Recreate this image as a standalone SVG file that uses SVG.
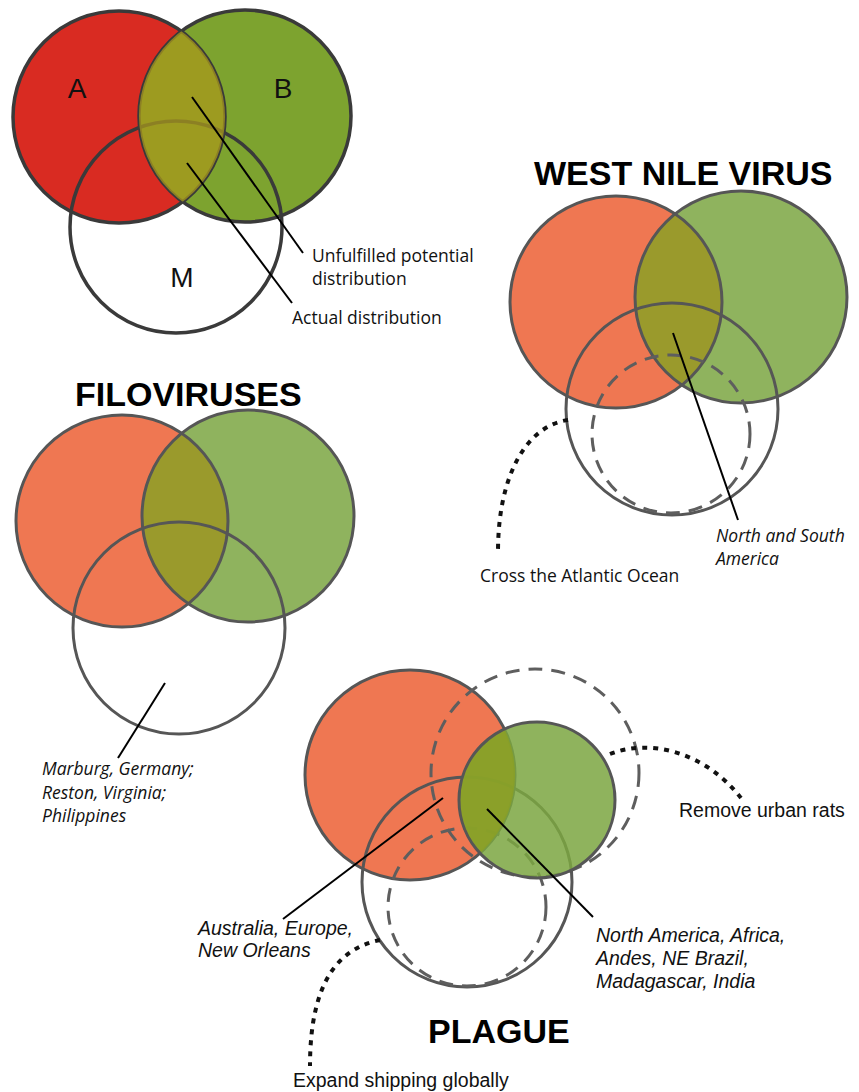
<svg xmlns="http://www.w3.org/2000/svg" width="859" height="1092" viewBox="0 0 859 1092">
<style>
.edge{fill:none;stroke:#3a3a3a;stroke-width:3.5}
.edge2{fill:none;stroke:#565656;stroke-width:3}
.dash{fill:none;stroke:#5e5e5e;stroke-width:3;stroke-dasharray:14 9}
.dots{fill:none;stroke:#111;stroke-width:4;stroke-dasharray:5 6}
.lead{fill:none;stroke:#000;stroke-width:2}
.title{font-family:"Liberation Sans",Arial,sans-serif;font-weight:bold;font-size:34px;fill:#000}
.lbl{font-family:"Open Sans","Liberation Sans",sans-serif;font-size:17.5px;fill:#111}
.arl{font-family:"Liberation Sans",Arial,sans-serif;font-size:19.5px;fill:#111}
.big{font-family:"Liberation Sans",Arial,sans-serif;font-size:28px;fill:#111}
.it{font-style:italic}
.red1{fill:#d92b22}.grn1{fill:#7da32f}
.red{fill:#ef7752}.grn{fill:#8fb35e}.olv{fill:#9a9a2c}
</style>
<defs>
<clipPath id="cA"><circle cx="119" cy="117" r="106"/></clipPath>
<clipPath id="cW"><circle cx="616" cy="302" r="106"/></clipPath>
<clipPath id="cF"><circle cx="122" cy="521" r="106"/></clipPath>
<clipPath id="cP"><circle cx="410" cy="775" r="105"/></clipPath>
</defs>
<rect width="859" height="1092" fill="#fff"/>

<g id="concept">
<circle cx="119" cy="117" r="106" class="red1"/>
<circle cx="245" cy="116" r="106" class="grn1"/>
<circle cx="119" cy="117" r="106" class="edge"/>
<circle cx="245" cy="116" r="106" class="edge"/>
<circle cx="176" cy="227" r="106" class="edge"/>
<circle cx="245" cy="116" r="106" clip-path="url(#cA)" fill="#a8981c" fill-opacity="0.75"/>
<text x="77" y="98" class="big" text-anchor="middle">A</text>
<text x="283" y="98" class="big" text-anchor="middle">B</text>
<text x="182" y="287" class="big" text-anchor="middle">M</text>
</g>

<g id="west-nile">
<text x="534" y="185" class="title">WEST NILE VIRUS</text>
<circle cx="616" cy="302" r="106" class="red"/>
<circle cx="741" cy="297" r="106" class="grn"/>
<circle cx="741" cy="297" r="106" clip-path="url(#cW)" class="olv"/>
<circle cx="616" cy="302" r="106" class="edge2"/>
<circle cx="741" cy="297" r="106" class="edge2"/>
<circle cx="672" cy="409" r="106" class="edge2"/>
<circle cx="671" cy="434" r="79" class="dash"/>
</g>

<g id="filoviruses">
<text x="75" y="406" class="title">FILOVIRUSES</text>
<circle cx="122" cy="521" r="106" class="red"/>
<circle cx="248" cy="516" r="106" class="grn"/>
<circle cx="248" cy="516" r="106" clip-path="url(#cF)" class="olv"/>
<circle cx="122" cy="521" r="106" class="edge2"/>
<circle cx="248" cy="516" r="106" class="edge2"/>
<circle cx="179" cy="628" r="106" class="edge2"/>
</g>

<g id="plague">
<circle cx="410" cy="775" r="105" class="red"/>
<circle cx="410" cy="775" r="105" class="edge2"/>
<circle cx="535" cy="773" r="104" class="dash"/>
<circle cx="467" cy="882" r="105" class="edge2"/>
<circle cx="467" cy="907" r="79" class="dash"/>
<circle cx="537" cy="800" r="78" fill="#7ba641" fill-opacity="0.85"/>
<circle cx="537" cy="800" r="78" clip-path="url(#cP)" fill="#8ba025" fill-opacity="0.85"/>
<circle cx="537" cy="800" r="78" class="edge2"/>
<text x="428" y="1043" class="title">PLAGUE</text>
</g>

<g id="connectors">
<line x1="192" y1="97" x2="303" y2="253" class="lead"/>
<line x1="187" y1="163" x2="292" y2="303" class="lead"/>
<line x1="673" y1="333" x2="738" y2="520" class="lead"/>
<line x1="165" y1="683" x2="118" y2="758" class="lead"/>
<line x1="443" y1="798" x2="283" y2="919" class="lead"/>
<line x1="487" y1="809" x2="593" y2="917" class="lead"/>
<path d="M568,420 C530,425 498,470 498,552" class="dots"/>
<path d="M610,754 C650,738 705,752 741,798" class="dots"/>
<path d="M380,940 C340,948 310,980 310,1066" class="dots"/>
</g>

<g id="labels">
<text x="312" y="262" class="lbl">Unfulfilled potential</text>
<text x="312" y="285" class="lbl">distribution</text>
<text x="292" y="324" class="lbl">Actual distribution</text>
<text x="480" y="582" class="lbl">Cross the Atlantic Ocean</text>
<text x="716" y="542" class="lbl it">North and South</text>
<text x="716" y="565" class="lbl it">America</text>
<text x="42" y="775" class="lbl it">Marburg, Germany;</text>
<text x="42" y="799" class="lbl it">Reston, Virginia;</text>
<text x="42" y="822" class="lbl it">Philippines</text>
<text x="679" y="817" class="arl">Remove urban rats</text>
<text x="198" y="935" class="arl it">Australia, Europe,</text>
<text x="198" y="957" class="arl it">New Orleans</text>
<text x="596" y="942" class="arl it">North America, Africa,</text>
<text x="596" y="965" class="arl it">Andes, NE Brazil,</text>
<text x="596" y="988" class="arl it">Madagascar, India</text>
<text x="293" y="1087" class="arl">Expand shipping globally</text>
</g>
</svg>
